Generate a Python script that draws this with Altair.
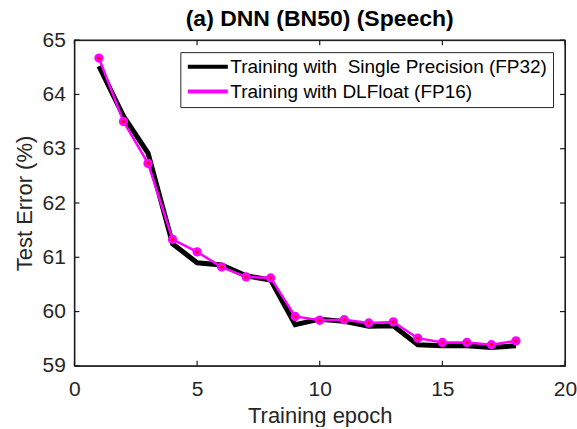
import altair as alt
import pandas as pd

epochs = list(range(1, 19))
fp32 = [64.52, 63.60, 62.92, 61.25, 60.90, 60.86, 60.66, 60.58, 59.76, 59.86,
        59.82, 59.73, 59.74, 59.39, 59.37, 59.37, 59.34, 59.37]
fp16 = [64.67, 63.50, 62.73, 61.33, 61.10, 60.82, 60.64, 60.62, 59.91, 59.84,
        59.85, 59.79, 59.81, 59.51, 59.43, 59.43, 59.39, 59.46]
series_names = ["Training with \u00a0Single Precision (FP32)", "Training with DLFloat (FP16)"]
series_colors = ["black", "#ff00ff"]
x_ticks = [0, 5, 10, 15, 20]
y_ticks = [59, 60, 61, 62, 63, 64, 65]

df = pd.DataFrame({
    "epoch": epochs * 2,
    "value": fp32 + fp16,
    "series": [series_names[0]] * len(epochs) + [series_names[1]] * len(epochs),
})
xt_df = pd.DataFrame({"t": x_ticks})
yt_df = pd.DataFrame({"t": y_ticks})
frame_df = pd.DataFrame({"x0": [x_ticks[0]], "x1": [x_ticks[-1]],
                         "y0": [y_ticks[0]], "y1": [y_ticks[-1]]})

FONT = "Liberation Sans"
AX = "#262626"
BOX = "#1a1a1a"

xs = alt.Scale(domain=[0, 20], nice=False)
ys = alt.Scale(domain=[59, 65], nice=False)

base = alt.Chart(df)

common = dict(tickSize=0, domain=False, grid=False, labelFlush=False, labelOverlap=False)

main_x = alt.X("epoch:Q", scale=xs, axis=alt.Axis(
    orient="bottom", values=x_ticks, format="d", **common,
    labelFontSize=21, labelFont=FONT, labelColor=AX, labelPadding=13,
    title="Training epoch", titleFontSize=22, titleFont=FONT, titleFontWeight="normal",
    titleColor=AX, titlePadding=6))
main_y = alt.Y("value:Q", scale=ys, axis=alt.Axis(
    orient="left", values=y_ticks, format="d", **common,
    labelFontSize=21, labelFont=FONT, labelColor=AX, labelPadding=9,
    title="Test Error (%)", titleFontSize=22, titleFont=FONT, titleFontWeight="normal",
    titleColor=AX, titlePadding=6))

# plot box and inward ticks, drawn through the scales
frame = alt.Chart(frame_df).mark_rect(filled=False, color=BOX, strokeWidth=1.2, opacity=1).encode(
    x=alt.X("x0:Q", scale=xs, axis=None), x2="x1:Q",
    y=alt.Y("y0:Q", scale=ys, axis=None), y2="y1:Q")

tick_style = dict(size=5, thickness=1.2, color=BOX, opacity=1)
xt = alt.Chart(xt_df)
yt = alt.Chart(yt_df)
t_bottom = xt.mark_tick(orient="vertical", yOffset=-2.5, **tick_style).encode(
    x=alt.X("t:Q", scale=xs, axis=None), y=alt.YDatum(y_ticks[0], type="quantitative", scale=ys, axis=None))
t_top = xt.mark_tick(orient="vertical", yOffset=2.5, **tick_style).encode(
    x=alt.X("t:Q", scale=xs, axis=None), y=alt.YDatum(y_ticks[-1], type="quantitative", scale=ys, axis=None))
t_left = yt.mark_tick(orient="horizontal", xOffset=2.5, **tick_style).encode(
    y=alt.Y("t:Q", scale=ys, axis=None), x=alt.XDatum(x_ticks[0], type="quantitative", scale=xs, axis=None))
t_right = yt.mark_tick(orient="horizontal", xOffset=-2.5, **tick_style).encode(
    y=alt.Y("t:Q", scale=ys, axis=None), x=alt.XDatum(x_ticks[-1], type="quantitative", scale=xs, axis=None))

leg = alt.Legend(title=None, orient="none", legendX=106, legendY=12, direction="vertical",
                 fillColor="white", strokeColor=AX, padding=5, symbolType="M-3,0H3", symbolSize=178,
                 symbolStrokeWidth=4, symbolOffset=13, labelOffset=13, labelFontSize=19,
                 labelFont=FONT, labelColor="black", rowPadding=5, labelLimit=0)

line32 = base.transform_filter(alt.datum.series == series_names[0]).mark_line(
    strokeWidth=5, strokeJoin="miter").encode(
    x=main_x, y=main_y,
    color=alt.Color("series:N", scale=alt.Scale(domain=series_names, range=series_colors), legend=leg))

line16 = base.transform_filter(alt.datum.series == series_names[1]).mark_line(
    color=series_colors[1], strokeWidth=2.5).encode(
    x=alt.X("epoch:Q", scale=xs, axis=None), y=alt.Y("value:Q", scale=ys, axis=None))

pts16 = base.transform_filter(alt.datum.series == series_names[1]).mark_point(
    filled=True, fill="red", stroke=series_colors[1], strokeWidth=3, size=40, opacity=1).encode(
    x=alt.X("epoch:Q", scale=xs, axis=None), y=alt.Y("value:Q", scale=ys, axis=None))

chart = alt.layer(line32, line16, pts16, frame, t_bottom, t_top, t_left, t_right).resolve_axis(
    x="independent", y="independent"
).properties(
    width=491, height=326,
    title=alt.TitleParams("(a) DNN (BN50) (Speech)", fontSize=23, font=FONT, fontWeight="bold",
                          color="black", anchor="middle", offset=-2),
    padding={"left": 12.5, "top": 8, "right": 0, "bottom": 0},
).configure_view(stroke=BOX, strokeWidth=1)

chart.save("out.html", embed_options={"renderer": "svg", "actions": False})
